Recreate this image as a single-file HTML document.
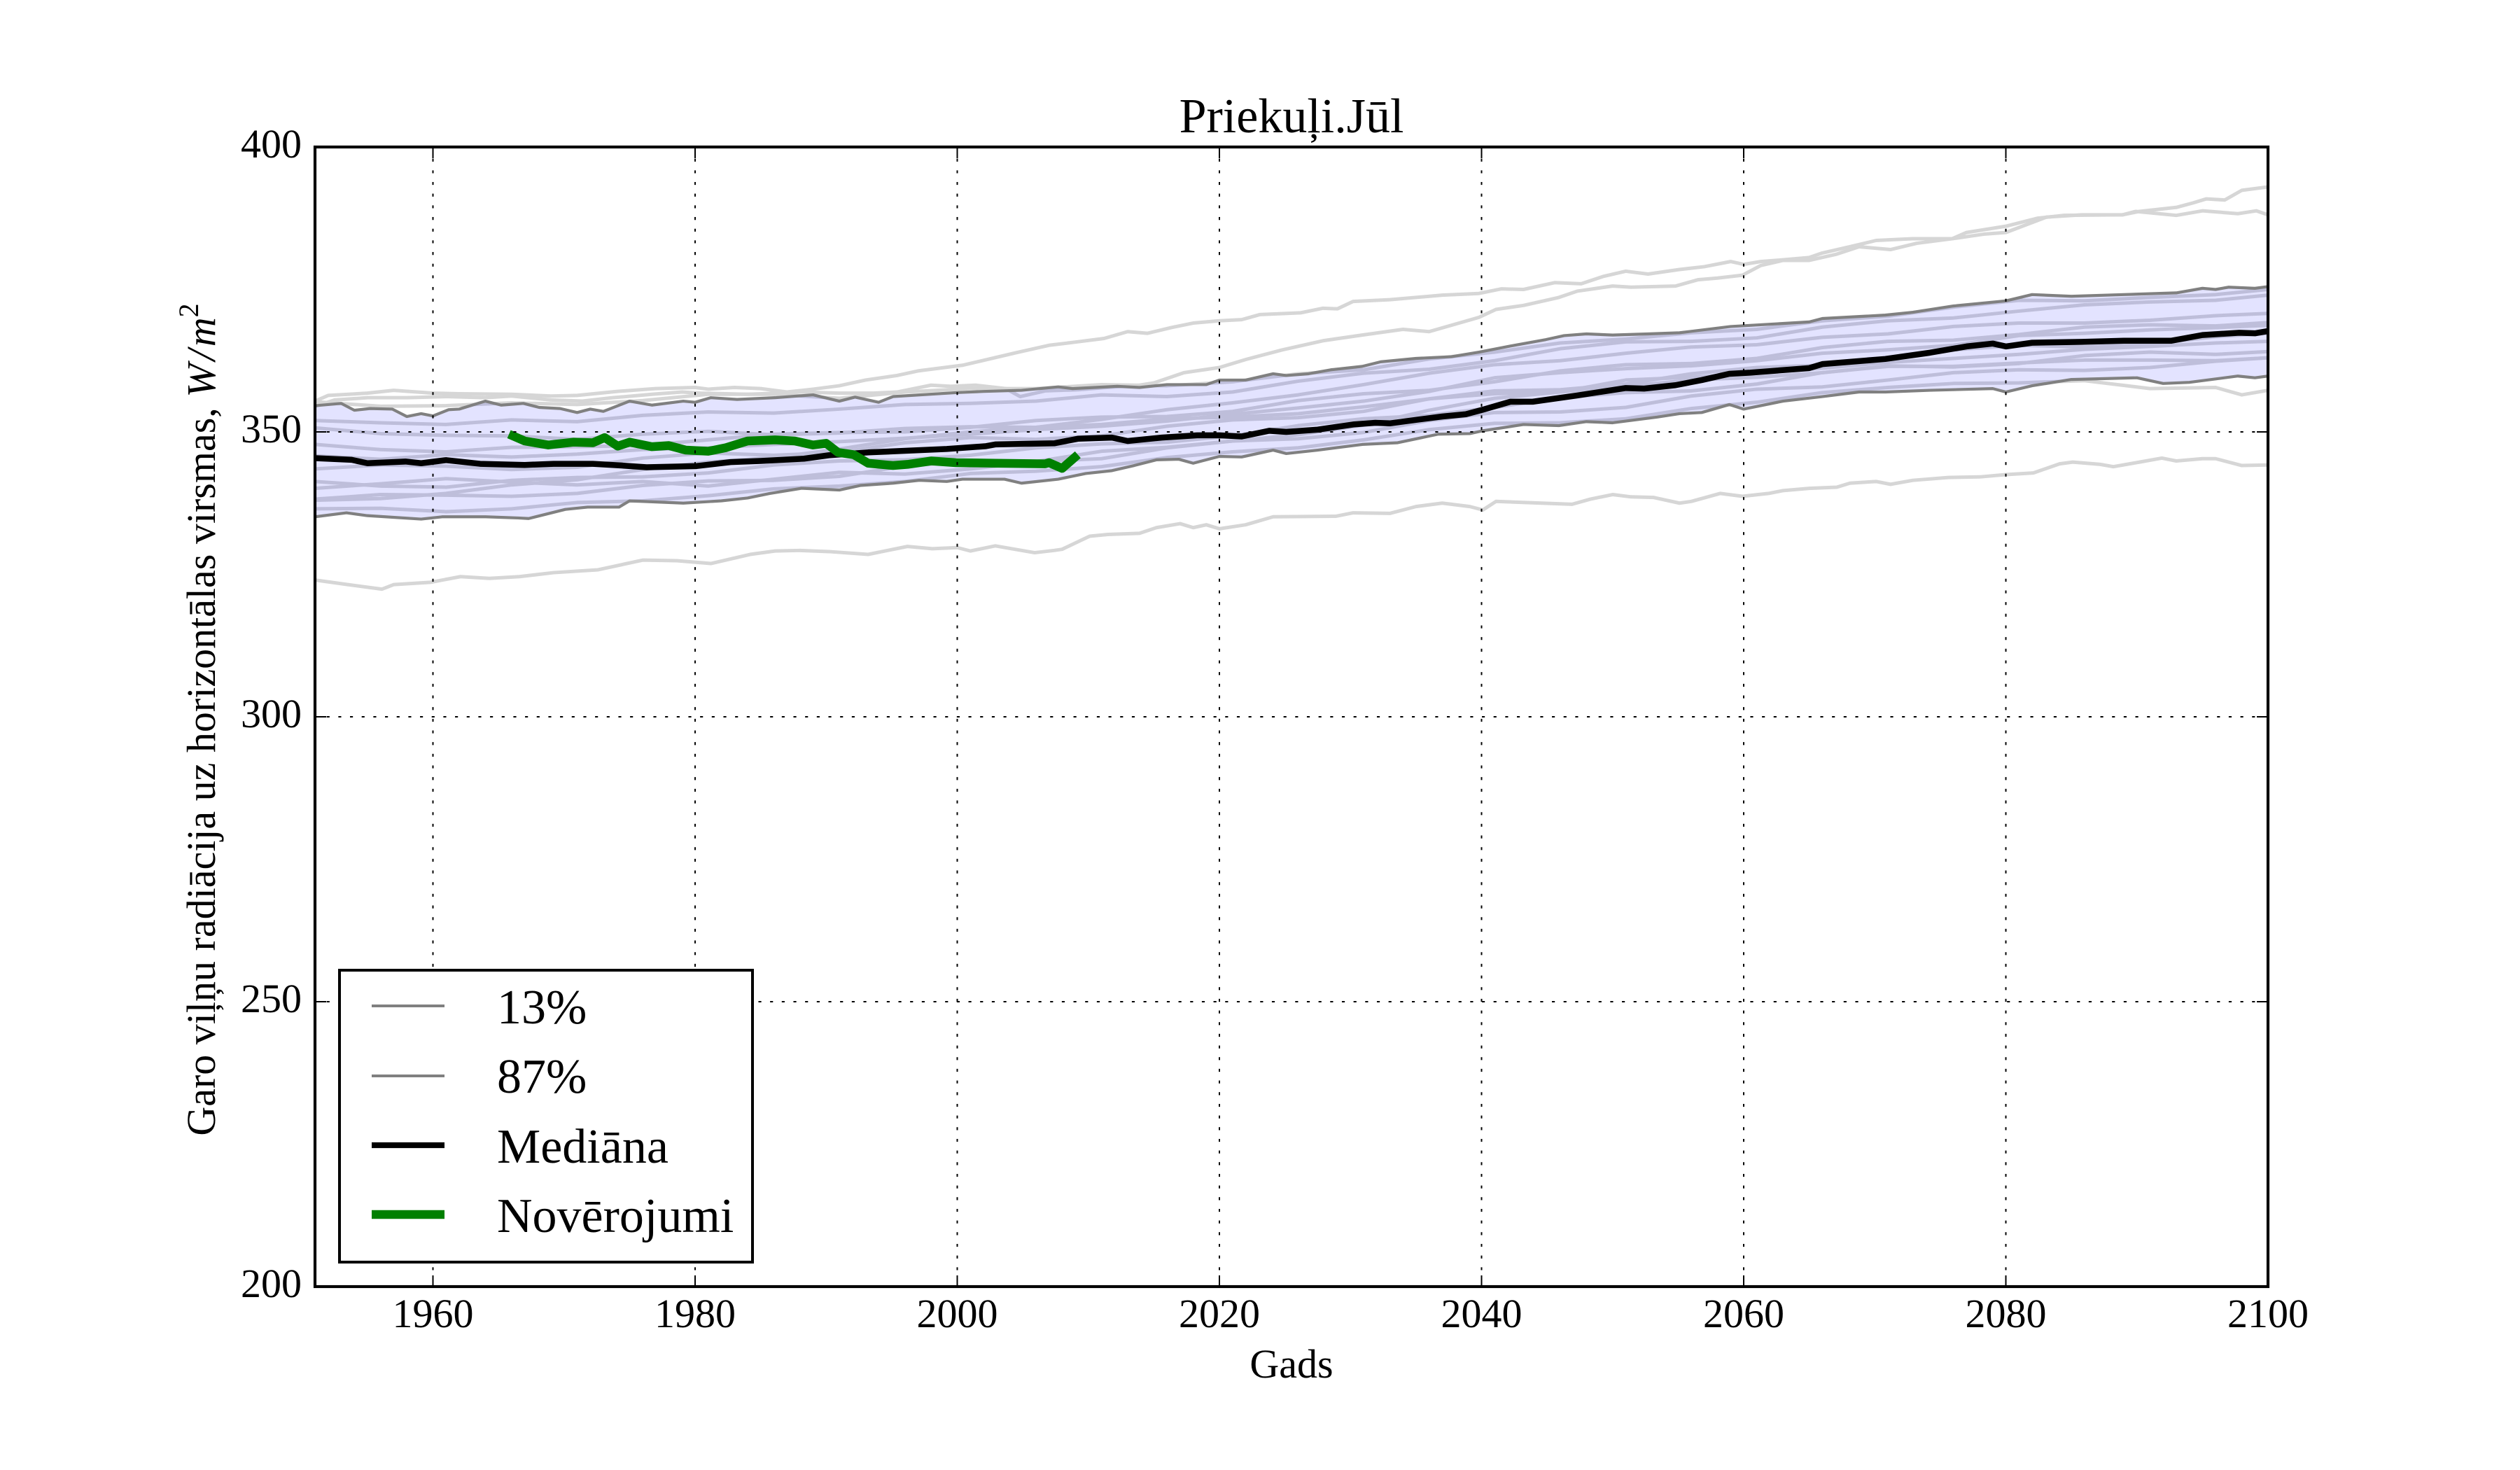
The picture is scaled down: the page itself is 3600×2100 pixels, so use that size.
<!DOCTYPE html>
<html>
<head>
<meta charset="utf-8">
<style>
html,body{margin:0;padding:0;background:#fff;}
svg{display:block;}
text{font-family:"Liberation Serif","DejaVu Serif",serif;fill:#000;}
</style>
</head>
<body>
<svg xmlns="http://www.w3.org/2000/svg" width="3600" height="2100" viewBox="0 0 3600 2100">
<rect x="0" y="0" width="3600" height="2100" fill="#fff"/>
<defs>
<clipPath id="ax"><rect x="450" y="210" width="2790" height="1628"/></clipPath>
</defs>

<g clip-path="url(#ax)">
<g transform="matrix(18.725 0 0 -8.14 -36082.475 3466)" fill="none" stroke-linejoin="round">
<!-- light gray ensemble lines -->
<g stroke="#d6d6d6" stroke-width="5">
<polyline vector-effect="non-scaling-stroke" points="1951,355.4 1952,356.4 1955,356.8 1957,357.3 1960,356.8 1962,356.7 1966,356.6 1969,356.3 1971,356.4 1974,357.1 1977,357.6 1980,357.8 1981,357.5 1983,357.8 1985,357.6 1987,357 1989,357.5 1991,358.1 1993,359.1 1995.4,359.9 1997,360.7 2000.4,361.7 2004.5,363.9 2007,365.2 2008.8,365.7 2011.2,366.4 2013,367.6 2014.5,367.3 2016.3,368.3 2018,369.1 2020,369.5 2021.7,369.7 2023.1,370.6 2026.2,370.9 2027.9,371.7 2029,371.6 2030.2,372.9 2033,373.2 2037,374 2039.8,374.3 2041.5,375.1 2043.2,375 2045.6,376.2 2047.6,376 2049.3,377.3 2051,378.2 2052.7,377.7 2055.1,378.5 2057,379 2059,379.9 2060,379.4 2061.3,379.9 2063,380.2 2065,380.6 2066,381.4 2068.1,382.5 2070.1,383.6 2072.9,383.9 2075.9,383.9 2077,385 2080,386.1 2082.4,387.5 2084.4,388 2088.9,388.1 2090.2,388.7 2093,389.4 2094.3,390.2 2095.3,390.9 2096.7,390.7 2098,392.4 2100,393"/>
<polyline vector-effect="non-scaling-stroke" points="1951,354.5 1952.5,355.6 1955,356 1958,356 1961,356.2 1964,356 1966,356.3 1969,355.6 1971.4,355.4 1973.7,356 1976.7,356.6 1979,357 1980.4,356.8 1984,356.6 1986.4,356.8 1988,357 1991,356.8 1993.6,356.8 1995.4,357 1998,358.2 1999.5,358 2001.4,358.2 2003.7,357.6 2004.8,356.2 2006.7,357.2 2009.2,357.4 2012,357.9 2013.9,358.2 2015,358.6 2017.3,360.4 2020,361.3 2022,362.7 2024.8,364.4 2027.9,366 2030.9,367 2034,368 2036,367.6 2039.8,370.1 2041.1,371.5 2043.2,372.2 2045.9,373.6 2047.3,374.7 2050,375.6 2051.4,375.4 2054.8,375.6 2056.5,376.7 2058,377 2059.9,377.5 2061.3,379.2 2063,380.1 2065,380.1 2067.1,381.2 2068.8,382.5 2071.2,382 2073.2,383.1 2075.9,383.9 2078.3,384.7 2080,385 2083.1,387.7 2085.8,388.1 2088.9,388.1 2089.9,388.7 2093,388 2095,388.8 2097.7,388.3 2099.1,388.8 2100,388.1"/>
<polyline vector-effect="non-scaling-stroke" points="1951,324 1953.5,323.2 1956.1,322.4 1957,323.2 1959.8,323.6 1962.1,324.6 1964.3,324.3 1966.6,324.6 1969.2,325.3 1972.6,325.8 1976,327.5 1978.6,327.4 1981.2,326.9 1984.2,328.5 1986.1,329.1 1988,329.2 1990.2,329 1993.2,328.5 1996.2,329.9 1998.1,329.5 2000,329.7 2001,329.1 2002.9,330 2005.9,328.8 2007.4,329.2 2008,329.4 2010.1,331.7 2011.5,332 2013.9,332.2 2015.2,333.2 2017,333.9 2018,333.2 2019,333.7 2020,333 2022,333.7 2024.1,335.1 2028.9,335.2 2030.2,335.8 2033,335.7 2035,336.9 2037,337.5 2039.1,336.9 2040.1,336.3 2041.1,337.8 2046.9,337.3 2048.3,338.2 2050,339 2051.4,338.6 2053.1,338.5 2055.1,337.5 2056,337.8 2058.2,339.2 2059.9,338.7 2061.9,339.2 2063,339.7 2065,340.1 2067.1,340.3 2068.1,341 2070.1,341.3 2071.2,340.8 2072.9,341.5 2075.6,342 2078,342.1 2080,342.5 2082.1,342.8 2084.1,344.4 2085.1,344.7 2087.2,344.3 2088.2,343.9 2090.2,344.7 2091.9,345.4 2093,344.9 2095,345.3 2096,345.3 2098,344.1 2100,344.2"/>
<polyline vector-effect="non-scaling-stroke" points="1951,352 1956,351.6 1961,351.3 1966,352.1 1971,351.8 1976,352.9 1981,353.5 1986,353.3 1991,354 1996,354.8 2001,355 2006,355.4 2011,356.5 2016,356.2 2021,357 2026,358.9 2031,360.3 2036,361 2041,362.5 2046,364.6 2051,365.8 2056,365.9 2061,366.5 2066,368.4 2071,369.5 2076,370 2081,371.2 2086,372.3 2091,372.8 2096,373.1 2100,374"/>
<polyline vector-effect="non-scaling-stroke" points="1951,347.8 1956,346.9 1961,346.5 1966,347.3 1971,347.4 1976,347.6 1981,348.6 1986,349.6 1991,349.9 1996,350 2001,350.8 2006,352 2011,352.6 2016,352.7 2021,353.6 2026,355.5 2031,356.7 2036,357.3 2041,358.8 2046,360.7 2051,361.8 2056,362 2061,362.9 2066,364.8 2071,365.9 2076,366.1 2081,367.1 2086,368.4 2091,368.8 2096,368.6 2100,369.2"/>
<polyline vector-effect="non-scaling-stroke" points="1951,343.5 1956,344.2 1961,344 1966,343.4 1971,343.8 1976,345.4 1981,346.3 1986,345.9 1991,346.4 1996,348.1 2001,349 2006,348.7 2011,349.3 2016,351 2021,352.1 2026,352.5 2031,353.6 2036,355.8 2041,357.2 2046,357.4 2051,358.4 2056,360.2 2061,361.3 2066,361.7 2071,362.8 2076,364.4 2081,365.2 2086,364.9 2091,365.4 2096,366.7 2100,367.3"/>
<polyline vector-effect="non-scaling-stroke" points="1951,341.3 1956,340.5 1961,340.3 1966,341.5 1971,342 1976,342.1 1981,342.8 1986,344.2 1991,344.9 1996,345.1 2001,345.9 2006,347.2 2011,347.9 2016,348.2 2021,349.3 2026,351.1 2031,352.3 2036,352.9 2041,354.3 2046,356 2051,356.9 2056,357.2 2061,358.4 2066,360.4 2071,361.6 2076,361.4 2081,362 2086,363.4 2091,364 2096,363.6 2100,364.1"/>
<polyline vector-effect="non-scaling-stroke" points="1951,338.2 1956,339 1961,338.9 1966,338.7 1971,339.2 1976,340.6 1981,341.4 1986,341.5 1991,342.2 1996,344 2001,344.9 2006,344.8 2011,345.3 2016,347.2 2021,348.4 2026,348.8 2031,349.9 2036,352 2041,353.4 2046,353.5 2051,354.3 2056,356.3 2061,357.5 2066,357.9 2071,359.1 2076,360.4 2081,360.9 2086,360.8 2091,361.3 2096,362.4 2100,363"/>
<polyline vector-effect="non-scaling-stroke" points="1951,338 1956,338.3 1961,339.2 1966,340.7 1971,341.6 1976,343.4 1981,344.7 1986,345.5 1991,347 1996,348.8 2001,350 2006,350.8 2011,352.2 2016,353.9 2021,355.1 2026,356.5 2031,358.3 2036,360.3 2041,361.8 2046,362.5 2051,363.8 2056,364.9 2061,365.3 2066,366.6 2071,367.2 2076,368.5 2081,369.1 2086,369.1 2091,369.6 2096,370.4 2100,370.8"/>
<polyline vector-effect="non-scaling-stroke" points="1951,350.7 1956,349.7 1961,349.4 1966,349.3 1971,348.7 1976,349.6 1981,350.1 1986,349.5 1991,349.8 1996,350.6 2001,350.9 2006,350.8 2011,351.3 2016,352.3 2021,352.6 2026,353.2 2031,354.4 2036,355.8 2041,356.7 2046,357 2051,358 2056,359.1 2061,359.6 2066,360.4 2071,361.5 2076,361.5 2081,362.1 2086,362.6 2091,362.6 2096,362.5 2100,363"/>
<polyline vector-effect="non-scaling-stroke" points="1951,336.5 1956,336.6 1961,336 1966,336.5 1971,337.6 1976,337.9 1981,338.8 1986,340 1991,340.5 1996,341.3 2001,342.7 2006,343.1 2011,343.9 2016,345.5 2021,346.5 2026,347.2 2031,348.6 2036,350.4 2041,351.5 2046,351.6 2051,352.3 2056,354.1 2061,355.2 2066,356.9 2071,357.8 2076,358.5 2081,358.6 2086,359 2091,357.6 2096,357.8 2098,356.5 2100,357.3"/>
<polyline vector-effect="non-scaling-stroke" points="1951,355.3 1956,354.5 1961,354.6 1966,355.1 1971,354.8 1976,355.5 1981,356.6 1986,356.6 1991,355.9 1996,357 2001,357.6 2006,357.6 2011,358.3 2016,358.1 2021,358.8 2026,360.2 2031,360.9 2036,362.8 2041,364 2046,365.6 2051,366.3 2056,367.4 2061,368 2066,369.5 2071,370.3 2076,371.9 2081,373.1 2086,373 2091,373.6 2096,374.1 2100,375"/>
<polyline vector-effect="non-scaling-stroke" points="1951,345.8 1956,345.2 1961,346 1966,345.6 1971,346.1 1976,346.9 1981,347.2 1986,347.8 1991,348.3 1996,348.9 2001,349.6 2006,350.4 2011,351 2016,351.9 2021,353.1 2026,354.2 2031,355.4 2036,357.1 2041,359.5 2046,360.4 2051,361.1 2056,361.6 2061,362.5 2066,363.8 2071,364.4 2076,365.2 2081,366.9 2086,367.3 2091,367.9 2096,368.3 2100,368.7"/>
<polyline vector-effect="non-scaling-stroke" points="1951,340.1 1956,340.9 1961,341.8 1966,341.2 1971,340.7 1976,341.3 1981,340.5 1986,341.7 1991,342.9 1996,342.6 2001,343.5 2006,344.8 2011,346.6 2016,347.3 2021,348.4 2026,349.5 2031,351.2 2036,353.8 2041,355.9 2046,357 2051,359.1 2056,359.6 2061,360.3 2066,361.2 2071,362.2 2076,362.9 2081,363.6 2086,364.5 2091,365 2096,365.6 2100,365.9"/>
</g>

<!-- fill band -->
<polygon fill="#0000ff" fill-opacity="0.11" stroke="none" points="1951,354.6 1953,355 1954,353.8 1955.2,354.1 1956.9,354 1958,352.7 1959.1,353.2 1960,352.8 1961.2,353.9 1962,354 1964,355.4 1965.2,354.7 1966.9,355 1968.1,354.3 1969.7,354.1 1971,353.4 1972,354 1973,353.6 1975,355.4 1976.7,354.7 1979.1,355.4 1980,355.2 1981.2,356 1983.2,355.7 1986.1,356 1989,356.5 1991,355.4 1992.2,356.1 1994,355.2 1995.1,356.2 2000,356.9 2002,357.1 2004.9,357.3 2007.7,357.9 2008.8,357.6 2012.2,358 2013.9,357.8 2016,358.3 2019,358.3 2020,359.1 2022,359.1 2024.1,360.2 2025.1,359.9 2026.8,360.2 2028.5,360.9 2030.9,361.5 2032.3,362.3 2035,362.9 2037.7,363.2 2039.8,364 2042.5,365.2 2044.9,366.2 2046.3,366.9 2048,367.2 2050,367 2052.7,367.2 2055.1,367.4 2059,368.5 2065,369.3 2066,369.9 2070.8,370.5 2072.9,371 2076,372.1 2080,373 2082,374.1 2085,373.8 2089,374.1 2093,374.4 2095,375.2 2096,375 2097,375.4 2099,375.2 2100,375.5 2100,359.8 2099,359.5 2097.7,359.8 2094,358.7 2092,358.5 2090,359.5 2085,359.2 2082,358.1 2080,357 2079,357.6 2074.2,357.3 2070.8,357 2068.8,357 2066,356.2 2063,355.4 2060,354 2058.9,354.8 2056.8,353.4 2055.1,353.2 2053.4,352.6 2050,351.6 2048,351.8 2045.9,351.1 2043.2,351.3 2040.1,350.2 2039.1,349.7 2036.7,349.6 2033.6,348.1 2030.9,347.8 2027.5,346.8 2025.1,346.2 2024.1,346.8 2021.7,345.6 2020,345.7 2018,344.5 2016.9,345.2 2015.2,345.1 2013.5,344.1 2011.8,343.2 2009.8,342.7 2007.7,341.7 2004.9,341 2003.6,341.7 2000.4,341.7 1999.2,341.3 1997.1,341.5 1995.1,341 1992.6,340.6 1991,339.8 1988.1,340.1 1985.7,339.2 1984,338.4 1982,337.9 1979.1,337.5 1975,337.9 1974.2,336.8 1971.8,336.8 1970.1,336.4 1967.3,334.8 1966.5,334.9 1964,335.1 1960.7,335.1 1959.1,334.7 1955,335.3 1953.4,335.8 1951,335.1"/>

<!-- 87% line -->
<polyline stroke="#808080" stroke-width="4.2" vector-effect="non-scaling-stroke" points="1951,354.6 1953,355 1954,353.8 1955.2,354.1 1956.9,354 1958,352.7 1959.1,353.2 1960,352.8 1961.2,353.9 1962,354 1964,355.4 1965.2,354.7 1966.9,355 1968.1,354.3 1969.7,354.1 1971,353.4 1972,354 1973,353.6 1975,355.4 1976.7,354.7 1979.1,355.4 1980,355.2 1981.2,356 1983.2,355.7 1986.1,356 1989,356.5 1991,355.4 1992.2,356.1 1994,355.2 1995.1,356.2 2000,356.9 2002,357.1 2004.9,357.3 2007.7,357.9 2008.8,357.6 2012.2,358 2013.9,357.8 2016,358.3 2019,358.3 2020,359.1 2022,359.1 2024.1,360.2 2025.1,359.9 2026.8,360.2 2028.5,360.9 2030.9,361.5 2032.3,362.3 2035,362.9 2037.7,363.2 2039.8,364 2042.5,365.2 2044.9,366.2 2046.3,366.9 2048,367.2 2050,367 2052.7,367.2 2055.1,367.4 2059,368.5 2065,369.3 2066,369.9 2070.8,370.5 2072.9,371 2076,372.1 2080,373 2082,374.1 2085,373.8 2089,374.1 2093,374.4 2095,375.2 2096,375 2097,375.4 2099,375.2 2100,375.5"/>
<!-- 13% line -->
<polyline stroke="#808080" stroke-width="4.2" vector-effect="non-scaling-stroke" points="1951,335.1 1953.4,335.8 1955,335.3 1959.1,334.7 1960.7,335.1 1964,335.1 1966.5,334.9 1967.3,334.8 1970.1,336.4 1971.8,336.8 1974.2,336.8 1975,337.9 1979.1,337.5 1982,337.9 1984,338.4 1985.7,339.2 1988.1,340.1 1991,339.8 1992.6,340.6 1995.1,341 1997.1,341.5 1999.2,341.3 2000.4,341.7 2003.6,341.7 2004.9,341 2007.7,341.7 2009.8,342.7 2011.8,343.2 2013.5,344.1 2015.2,345.1 2016.9,345.2 2018,344.5 2020,345.7 2021.7,345.6 2024.1,346.8 2025.1,346.2 2027.5,346.8 2030.9,347.8 2033.6,348.1 2036.7,349.6 2039.1,349.7 2040.1,350.2 2043.2,351.3 2045.9,351.1 2048,351.8 2050,351.6 2053.4,352.6 2055.1,353.2 2056.8,353.4 2058.9,354.8 2060,354 2063,355.4 2066,356.2 2068.8,357 2070.8,357 2074.2,357.3 2079,357.6 2080,357 2082,358.1 2085,359.2 2090,359.5 2092,358.5 2094,358.7 2097.7,359.8 2099,359.5 2100,359.8"/>

<!-- median -->
<polyline stroke="#000" stroke-width="8.5" vector-effect="non-scaling-stroke" points="1951,345.4 1953.8,345.1 1955,344.5 1957.9,344.8 1959.1,344.5 1961,345.05 1963.6,344.4 1967,344.2 1969.2,344.4 1972.2,344.4 1974.4,344.1 1976.3,343.8 1980.1,344 1982.7,344.7 1985,344.9 1988.3,345.3 1990.2,345.9 1993.2,346.4 1999.2,347 2002.2,347.5 2002.9,347.8 2007.4,348 2009.2,348.8 2011.8,349 2013,348.4 2015.6,349 2018.3,349.4 2020,349.4 2021.7,349.2 2023.8,350.2 2025.1,350 2027.5,350.4 2030.2,351.3 2031.9,351.6 2033,351.5 2035.3,352.2 2037,352.7 2038.8,353.1 2040.1,353.9 2042.2,355.3 2043.9,355.3 2047.3,356.4 2051,357.7 2052.4,357.6 2054.8,358.2 2056.8,359.1 2058.9,360.2 2060.5,360.4 2065,361.2 2066,361.9 2070.8,362.8 2074.2,363.9 2077,365 2079,365.5 2080,365 2082,365.65 2085.8,365.8 2089,366 2092.6,366 2095,367 2097.8,367.4 2099,367.3 2100,367.7"/>

<!-- observations -->
<polyline stroke="#008000" stroke-width="12.5" vector-effect="non-scaling-stroke" points="1965.8,349.6 1967,348.4 1968.8,347.7 1970.7,348.2 1972.2,348.1 1973.1,349 1974.1,347.5 1975,348.2 1976.7,347.4 1978,347.6 1979.3,346.8 1981,346.6 1982.3,347.2 1984,348.4 1986.1,348.6 1987.6,348.4 1989,347.7 1990,348 1990.9,346.4 1992.1,346 1993.2,344.5 1995.1,344.1 1996.2,344.3 1998,344.9 1999.9,344.6 2002.9,344.5 2006.7,344.4 2007,344.6 2008,343.6 2009.2,346"/>
</g>
</g>

<!-- grid -->
<g stroke="#000" stroke-width="2" stroke-dasharray="4.17 12.5" fill="none">
<line x1="450" y1="1431" x2="3240" y2="1431"/>
<line x1="450" y1="1024" x2="3240" y2="1024"/>
<line x1="450" y1="617" x2="3240" y2="617"/>
<line x1="618.5" y1="210" x2="618.5" y2="1838"/>
<line x1="993" y1="210" x2="993" y2="1838"/>
<line x1="1367.5" y1="210" x2="1367.5" y2="1838"/>
<line x1="1742" y1="210" x2="1742" y2="1838"/>
<line x1="2116.5" y1="210" x2="2116.5" y2="1838"/>
<line x1="2491" y1="210" x2="2491" y2="1838"/>
<line x1="2865.5" y1="210" x2="2865.5" y2="1838"/>
</g>

<!-- ticks -->
<g stroke="#000" stroke-width="2" fill="none">
<path d="M618.5,1838v-16M993,1838v-16M1367.5,1838v-16M1742,1838v-16M2116.5,1838v-16M2491,1838v-16M2865.5,1838v-16M3240,1838v-16"/>
<path d="M618.5,210v16M993,210v16M1367.5,210v16M1742,210v16M2116.5,210v16M2491,210v16M2865.5,210v16M3240,210v16"/>
<path d="M450,1838h16M450,1431h16M450,1024h16M450,617h16M450,210h16"/>
<path d="M3240,1838h-16M3240,1431h-16M3240,1024h-16M3240,617h-16M3240,210h-16"/>
</g>

<!-- spines -->
<rect x="450" y="210" width="2790" height="1628" fill="none" stroke="#000" stroke-width="4.17"/>

<!-- y tick labels -->
<g font-size="58" text-anchor="end">
<text x="431" y="225">400</text>
<text x="431" y="632">350</text>
<text x="431" y="1039">300</text>
<text x="431" y="1446">250</text>
<text x="431" y="1853">200</text>
</g>
<!-- x tick labels -->
<g font-size="58" text-anchor="middle">
<text x="618.5" y="1896">1960</text>
<text x="993" y="1896">1980</text>
<text x="1367.5" y="1896">2000</text>
<text x="1742" y="1896">2020</text>
<text x="2116.5" y="1896">2040</text>
<text x="2491" y="1896">2060</text>
<text x="2865.5" y="1896">2080</text>
<text x="3240" y="1896">2100</text>
</g>

<!-- title and axis labels -->
<text x="1845" y="189" font-size="70" text-anchor="middle">Priekuļi.Jūl</text>
<text x="1845" y="1968" font-size="58" text-anchor="middle">Gads</text>
<text transform="translate(307,1028) rotate(-90)" font-size="58" text-anchor="middle">Garo viļņu radiācija uz horizontālas virsmas, <tspan font-style="italic">W</tspan><tspan font-style="italic" dx="4">/</tspan><tspan font-style="italic" dx="4">m</tspan><tspan font-size="40" dy="-24">2</tspan></text>

<!-- legend -->
<rect x="485" y="1386" width="590" height="417" fill="#fff" stroke="#000" stroke-width="4"/>
<line x1="531" y1="1437" x2="635" y2="1437" stroke="#808080" stroke-width="4"/>
<line x1="531" y1="1537" x2="635" y2="1537" stroke="#808080" stroke-width="4"/>
<line x1="531" y1="1636" x2="635" y2="1636" stroke="#000" stroke-width="8.3"/>
<line x1="531" y1="1735" x2="635" y2="1735" stroke="#008000" stroke-width="12.5"/>
<g font-size="70">
<text x="710" y="1462">13%</text>
<text x="710" y="1561">87%</text>
<text x="710" y="1661">Mediāna</text>
<text x="710" y="1760">Novērojumi</text>
</g>
</svg>
</body>
</html>
